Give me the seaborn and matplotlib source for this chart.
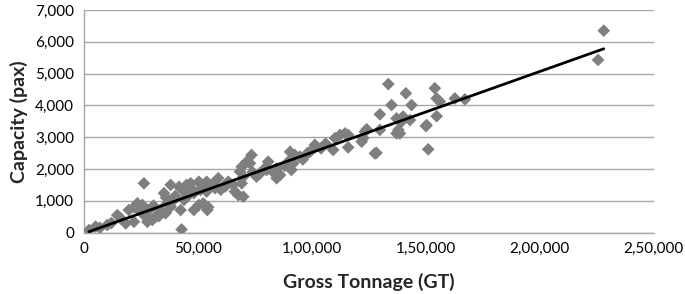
import matplotlib
matplotlib.use('Agg')
import matplotlib.pyplot as plt
import matplotlib.ticker as mticker
import seaborn as sns
import pandas as pd

# gross tonnage (GT)
gross_tonnage = [
    2200, 5100, 10200, 14600, 16100, 18300, 19700, 21900, 23400, 25600,
    24100, 26300, 28500, 27800, 30000, 26300, 33600, 35800, 36500, 31400,
    28500, 39500, 38000, 43900, 45300, 48200, 51100, 35100, 38000, 41700,
    43900, 46800, 50400, 54100, 42400, 48200, 50400, 54100, 42800, 32900,
    51600, 53800, 56700, 58900, 61100, 63300, 65500, 53800, 52300, 54500,
    66200, 67700, 69200, 69900, 68400, 69200, 71400, 72800, 73500, 69900,
    75700, 77200, 80100, 80800, 84500, 86000, 84500, 89600, 91000, 91800,
    90400, 92500, 94700, 99100, 101300, 109300, 110100, 112300, 114500, 115900,
    115900, 121800, 122500, 124000, 123200, 127600, 128300, 129800, 129800, 133500,
    134900, 137100, 137900, 137100, 138600, 139300, 140000, 141200, 143000, 143700,
    150000, 151000, 150300, 153900, 154700, 154700, 156100, 162700, 167100, 225500,
    228000, 60000, 57500, 47000, 62000, 30500, 22000, 36000, 40000, 88000,
    96000, 98000, 106000, 104000, 79000, 83000, 74000, 45000, 12000, 7000,
]

# passenger capacity (pax)
capacity = [
    80, 190, 240, 550, 450, 290, 710, 340, 920, 870,
    710, 550, 710, 340, 400, 1550, 710, 610, 920, 500,
    450, 1030, 810, 1030, 1130, 1240, 1340, 1240, 1500, 1440,
    1290, 1550, 1600, 1550, 710, 710, 870, 710, 100, 520,
    1500, 1600, 1550, 1710, 1440, 1600, 1500, 1290, 920, 800,
    1290, 1180, 1550, 1130, 1920, 2070, 2230, 2180, 2440, 1760,
    1760, 1860, 1970, 2230, 2020, 1810, 1710, 2230, 1970, 2180,
    2540, 2440, 2390, 2540, 2760, 2600, 2970, 3070, 3120, 3070,
    2680, 2860, 2970, 3250, 3170, 2490, 2510, 3230, 3720, 4670,
    4010, 3120, 3230, 3590, 3120, 3490, 3650, 4380, 3540, 4010,
    3350, 2620, 3380, 4540, 4220, 3660, 4120, 4220, 4190, 5430,
    6350, 1350, 1400, 1400, 1450, 850, 800, 1100, 1150, 2100,
    2300, 2500, 2800, 2650, 2000, 1900, 1900, 1500, 300, 150,
]

x_ticks = [0, 50000, 100000, 150000, 200000, 250000]
x_tick_labels = ['0', '50,000', '1,00,000', '1,50,000', '2,00,000', '2,50,000']
y_ticks = [0, 1000, 2000, 3000, 4000, 5000, 6000, 7000]

df = pd.DataFrame({'gt': gross_tonnage, 'pax': capacity})

sns.set_style('white')
plt.rcParams['font.family'] = ['Lato', 'DejaVu Sans']

fig = plt.figure(figsize=(6.85, 2.94), dpi=100)
ax = fig.add_axes([0.1226, 0.2088, 0.832, 0.7572])

sns.scatterplot(data=df, x='gt', y='pax', marker='D', s=42, color='#7f7f7f',
                edgecolor='none', ax=ax, zorder=3)
sns.regplot(data=df, x='gt', y='pax', scatter=False, ci=None, ax=ax,
            line_kws={'color': 'black', 'lw': 2, 'zorder': 4})

ax.set_xlim(0, 250000)
ax.set_ylim(0, 7000)
ax.set_xticks(x_ticks)
ax.set_xticklabels(x_tick_labels)
ax.set_yticks(y_ticks)
ax.yaxis.set_major_formatter(mticker.FuncFormatter(lambda v, p: f'{int(v):,}'))

ax.yaxis.grid(True, color='#a6a6a6', lw=1)
ax.set_axisbelow(True)
for s in ['top', 'right']:
    ax.spines[s].set_visible(False)
for s in ['left', 'bottom']:
    ax.spines[s].set_color('#a6a6a6')
    ax.spines[s].set_linewidth(1)
ax.tick_params(axis='both', which='major', direction='out', length=4, width=1,
               color='#a6a6a6', labelsize=11, labelcolor='black', pad=3)

ax.set_xlabel('Gross Tonnage (GT)', fontsize=14, fontweight='bold', labelpad=12)
ax.set_ylabel('Capacity (pax)', fontsize=14, fontweight='bold', labelpad=5)

fig.savefig('out.png', dpi=100)
